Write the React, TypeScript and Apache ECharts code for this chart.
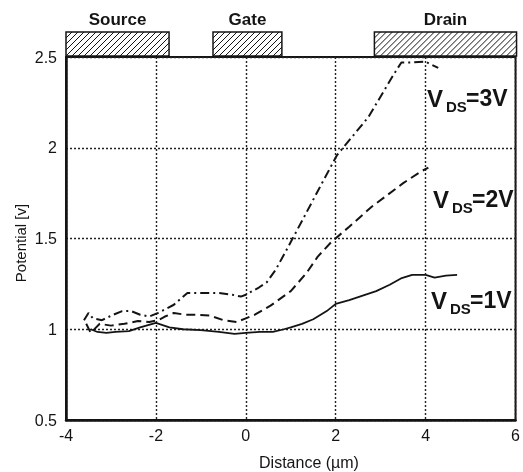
import { useEffect, useRef } from 'react';
import * as echarts from 'echarts';

// Surface potential along the channel for three drain biases
const vds1X = [-3.45, -3.3, -3.1, -2.9, -2.6, -2.35, -2.0, -1.7, -1.4, -1.0, -0.6, -0.25, 0.0, 0.3, 0.6, 0.85, 1.0, 1.25, 1.5, 1.8, 2.0, 2.3, 2.6, 2.9, 3.2, 3.45, 3.7, 4.0, 4.2, 4.45, 4.7];
const vds1Y = [1.0, 0.985, 0.98, 0.985, 0.99, 1.01, 1.035, 1.01, 1.0, 0.995, 0.985, 0.975, 0.98, 0.985, 0.985, 1.0, 1.01, 1.03, 1.055, 1.1, 1.14, 1.16, 1.185, 1.21, 1.245, 1.28, 1.3, 1.3, 1.285, 1.295, 1.3];

const vds2X = [-3.55, -3.45, -3.25, -3.0, -2.7, -2.4, -2.15, -1.95, -1.8, -1.6, -1.35, -1.1, -0.8, -0.5, -0.2, 0.0, 0.2, 0.55, 1.0, 1.35, 1.6, 1.9, 2.3, 2.8, 3.5, 3.9, 4.06];
const vds2Y = [1.03, 0.98, 1.03, 1.02, 1.03, 1.045, 1.04, 1.05, 1.07, 1.09, 1.08, 1.08, 1.075, 1.05, 1.04, 1.06, 1.08, 1.13, 1.21, 1.31, 1.4, 1.48, 1.565, 1.675, 1.805, 1.87, 1.89];

const vds3X = [-3.6, -3.5, -3.4, -3.2, -2.95, -2.75, -2.55, -2.35, -2.15, -1.95, -1.6, -1.44, -1.3, -0.93, -0.6, -0.3, -0.11, 0.0, 0.29, 0.47, 0.67, 1.02, 1.62, 2.03, 2.73, 3.28, 3.46, 3.68, 3.99, 4.28];
const vds3Y = [1.05, 1.09, 1.06, 1.05, 1.08, 1.1, 1.1, 1.08, 1.07, 1.09, 1.135, 1.17, 1.2, 1.2, 1.2, 1.19, 1.18, 1.19, 1.23, 1.26, 1.33, 1.49, 1.77, 1.96, 2.17, 2.4, 2.47, 2.47, 2.475, 2.44];

// Electrode extents along the device (µm)
const electrodeNames = ['Source', 'Gate', 'Drain'];
const electrodeStart = [-4, -0.73, 2.86];
const electrodeEnd = [-1.73, 0.78, 6];

const curveTags = ['=3V', '=2V', '=1V'];

const FONT = 'Liberation Sans, Arial, sans-serif';
const INK = '#141414';

const pairs = (xs: number[], ys: number[]) => xs.map((x, i) => [x, ys[i]]);

function renderElectrode(params: any, api: any) {
  const a = api.coord([api.value(0), 2.5]);
  const b = api.coord([api.value(1), 2.5]);
  const left = a[0];
  const right = b[0] + 1;
  const bottom = a[1] - 1;
  const top = bottom - 24;
  const hatch: any[] = [];
  const step = 6;
  for (let c = left + top; c <= right + bottom; c += step) {
    const xa = Math.max(left, c - bottom);
    const xb = Math.min(right, c - top);
    if (xb - xa > 0.5) {
      hatch.push({
        type: 'line',
        shape: { x1: xa, y1: c - xa, x2: xb, y2: c - xb },
        style: { stroke: INK, lineWidth: 1 },
      });
    }
  }
  return {
    type: 'group',
    children: [
      { type: 'rect', shape: { x: left, y: top, width: right - left, height: bottom - top }, style: { fill: '#fff' } },
      ...hatch,
      {
        type: 'rect',
        shape: { x: left, y: top, width: right - left, height: bottom - top },
        style: { fill: 'none', stroke: INK, lineWidth: 1.5 },
      },
      {
        type: 'text',
        x: (left + right) / 2,
        y: top - 13,
        style: {
          text: electrodeNames[params.dataIndex],
          font: `bold 17px ${FONT}`,
          fill: INK,
          align: 'center',
          verticalAlign: 'middle',
        },
      },
    ],
  };
}

function tagTexts(x: number, y: number, tag: string) {
  return [
    { type: 'text', x, y, style: { text: 'V', font: `bold 24px ${FONT}`, fill: INK, align: 'left', verticalAlign: 'middle' } },
    { type: 'text', x: x + 19, y: y + 8, style: { text: 'DS', font: `bold 15px ${FONT}`, fill: INK, align: 'left', verticalAlign: 'middle' } },
    { type: 'text', x: x + 39, y, style: { text: tag, font: `bold 23px ${FONT}`, fill: INK, align: 'left', verticalAlign: 'middle' } },
  ];
}

export default function App() {
  const ref = useRef<HTMLDivElement>(null);

  useEffect(() => {
    if (!ref.current) return;
    const chart = echarts.init(ref.current, null, { renderer: 'svg' });
    const line = (xs: number[], ys: number[], type: any, width: number) => ({
      type: 'line',
      data: pairs(xs, ys),
      showSymbol: false,
      symbol: 'none',
      smooth: false,
      z: 5,
      lineStyle: { color: INK, width, type },
    });
    chart.setOption({
      animation: false,
      grid: {
        left: 66,
        right: 5,
        top: 57,
        bottom: 52,
        show: true,
        borderColor: INK,
        borderWidth: 2,
        backgroundColor: 'transparent',
      },
      xAxis: {
        type: 'value',
        min: -4,
        max: 6,
        interval: 2,
        axisLine: { show: true, onZero: false, lineStyle: { color: INK, width: 2.5 } },
        axisTick: { show: false },
        axisLabel: { color: INK, fontSize: 16, fontFamily: FONT, margin: 7 },
        splitLine: { show: true, lineStyle: { color: '#222', width: 1.4, type: [2, 2] } },
      },
      yAxis: {
        type: 'value',
        min: 0.5,
        max: 2.5,
        interval: 0.5,
        axisLine: { show: true, onZero: false, lineStyle: { color: INK, width: 2.5 } },
        axisTick: { show: false },
        axisLabel: { color: INK, fontSize: 16, fontFamily: FONT, margin: 9 },
        splitLine: { show: true, lineStyle: { color: '#222', width: 1.4, type: [2, 2] } },
      },
      series: [
        line(vds1X, vds1Y, 'solid', 1.8),
        line(vds2X, vds2Y, [9, 5], 2),
        line(vds3X, vds3Y, [9, 4, 2, 4], 2),
        {
          type: 'custom',
          coordinateSystem: 'cartesian2d',
          clip: false,
          silent: true,
          z: 10,
          encode: { x: [0, 1], y: 2 },
          data: electrodeStart.map((s, i) => [s, electrodeEnd[i], 2.5]),
          renderItem: renderElectrode,
        },
      ],
      graphic: [
        ...tagTexts(427, 98, curveTags[0]),
        ...tagTexts(433, 199, curveTags[1]),
        ...tagTexts(431, 300, curveTags[2]),
        {
          type: 'text',
          x: 309,
          y: 462,
          style: { text: 'Distance (\u00b5m)', font: `16px ${FONT}`, fill: INK, align: 'center', verticalAlign: 'middle' },
        },
        {
          type: 'text',
          x: 20,
          y: 243,
          rotation: Math.PI / 2,
          style: { text: 'Potential [v]', font: `15px ${FONT}`, fill: INK, align: 'center', verticalAlign: 'middle' },
        },
      ],
    });
    return () => chart.dispose();
  }, []);

  return <div ref={ref} style={{ position: 'fixed', left: 0, top: 0, width: 523, height: 472 }} />;
}
